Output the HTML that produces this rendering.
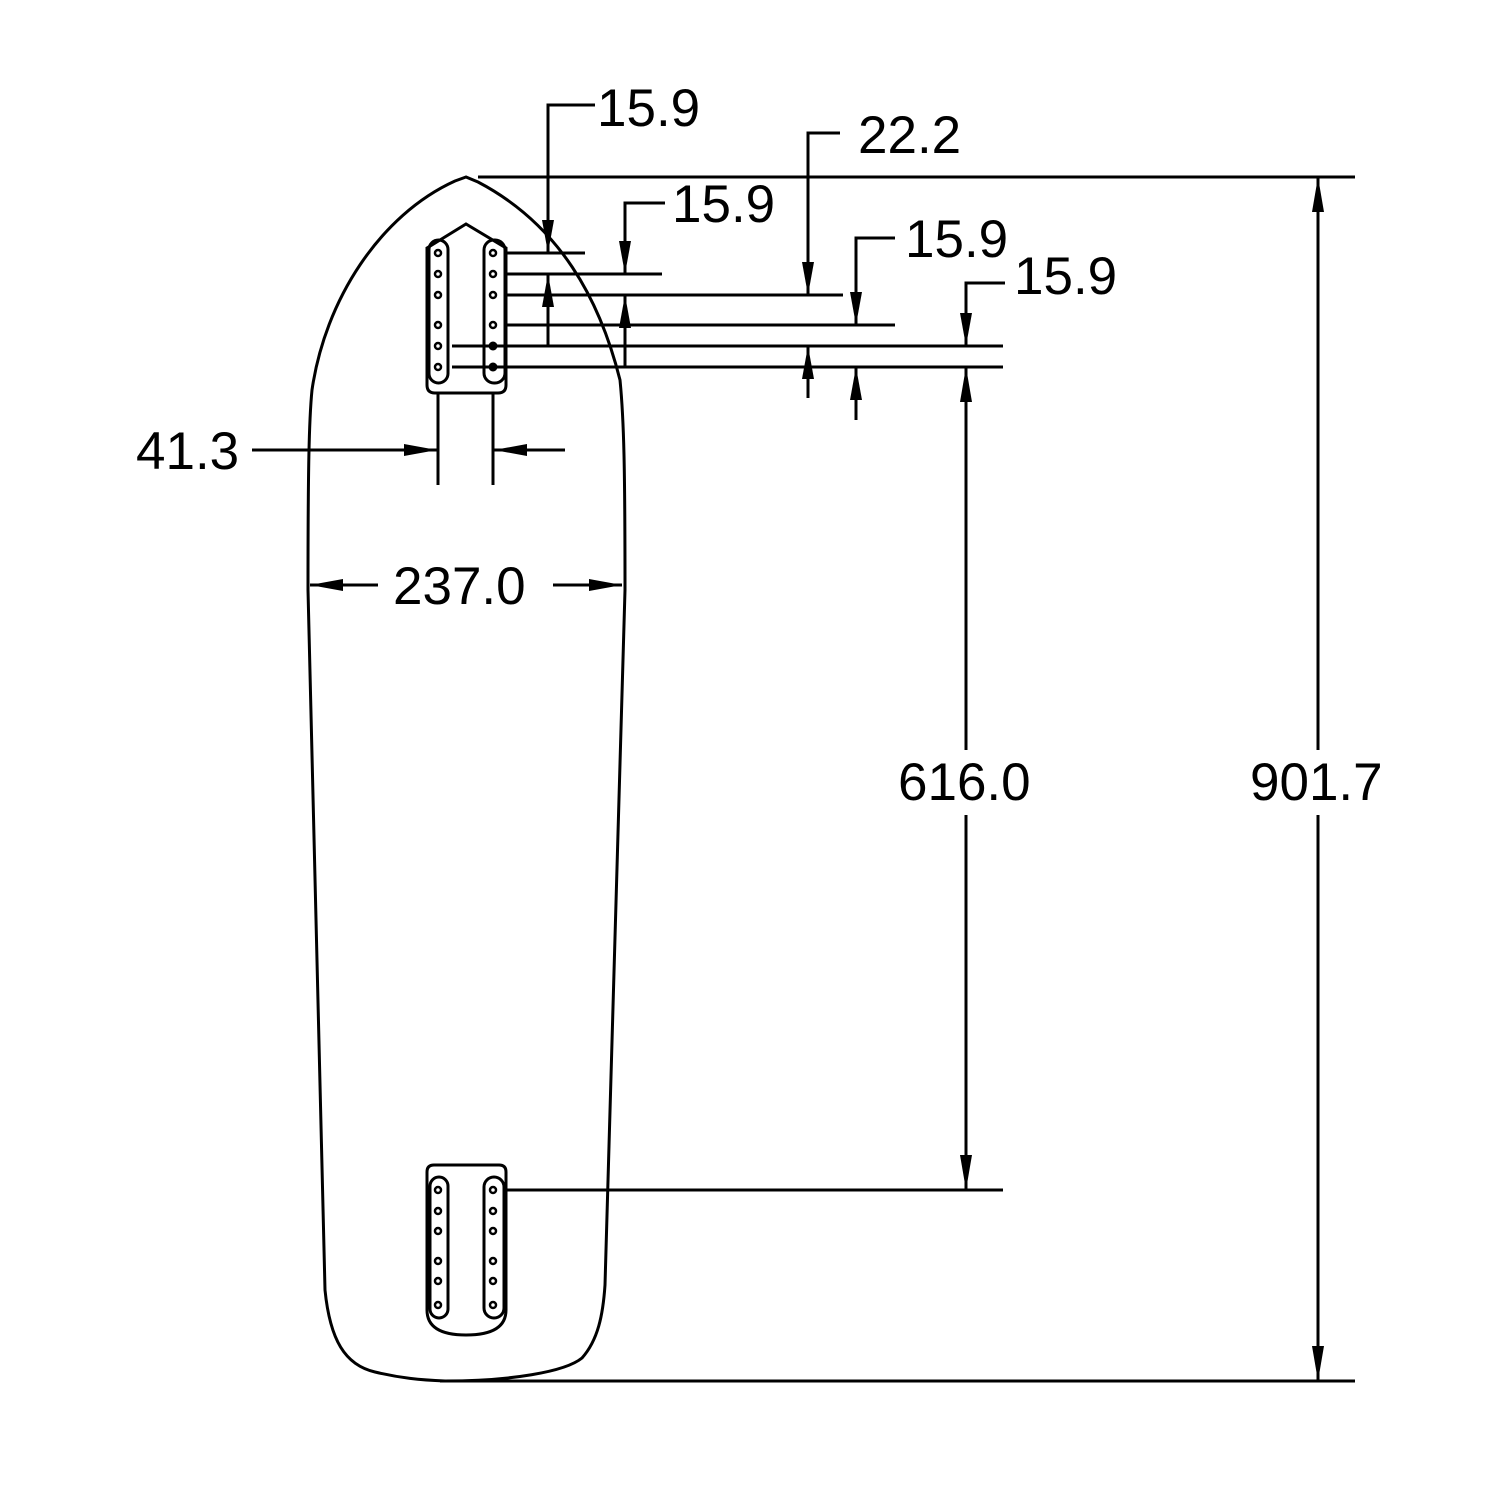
<!DOCTYPE html>
<html><head><meta charset="utf-8"><style>
html,body{margin:0;padding:0;background:#fff}
svg{display:block}
text{font-family:"Liberation Sans",sans-serif;font-size:53px;fill:#000}
</style></head><body>
<svg width="1490" height="1490" viewBox="0 0 1490 1490" xmlns="http://www.w3.org/2000/svg">
<g fill="none" stroke="#000" stroke-width="3">
<path d="M466,177 L455,181 C380,215 325,300 312,390 C309,420 308,470 308,590 L325,1290 C330,1340 345,1365 375,1372 C400,1378 420,1380 445,1381 C510,1381 565,1372 582,1358 C598,1340 603,1315 605,1285 L625,590 C625,470 624,420 620,380 C600,300 560,225 478,182 Z"/>
<path d="M427,248 L466,224 L506,248 L506,385 Q506,393 498,393 L435,393 Q427,393 427,385 Z"/>
<rect x="429" y="240" width="19" height="143" rx="9.5"/>
<rect x="484" y="240" width="21" height="143" rx="10"/>
<path d="M434,1165 L499,1165 Q506,1165 506,1172 L506,1310 Q506,1335 466,1335 Q427,1335 427,1310 L427,1172 Q427,1165 434,1165 Z"/>
<rect x="430" y="1177" width="18" height="141" rx="9"/>
<rect x="484" y="1177" width="20" height="141" rx="10"/>
</g>
<g fill="#fff" stroke="#000" stroke-width="2.5">
<circle cx="438" cy="253" r="3"/><circle cx="438" cy="274" r="3"/><circle cx="438" cy="295" r="3"/><circle cx="438" cy="325" r="3"/><circle cx="438" cy="346" r="3"/><circle cx="438" cy="367" r="3"/>
<circle cx="493" cy="253" r="3"/><circle cx="493" cy="274" r="3"/><circle cx="493" cy="295" r="3"/><circle cx="493" cy="325" r="3"/>
<circle cx="438" cy="1190" r="3"/><circle cx="438" cy="1211" r="3"/><circle cx="438" cy="1231" r="3"/><circle cx="438" cy="1261" r="3"/><circle cx="438" cy="1281" r="3"/><circle cx="438" cy="1305" r="3"/>
<circle cx="493" cy="1190" r="3"/><circle cx="493" cy="1211" r="3"/><circle cx="493" cy="1231" r="3"/><circle cx="493" cy="1261" r="3"/><circle cx="493" cy="1281" r="3"/><circle cx="493" cy="1305" r="3"/>
</g>
<circle cx="493" cy="346" r="4.5"/><circle cx="493" cy="367" r="4.5"/>
<g fill="none" stroke="#000" stroke-width="3">
<line x1="478" y1="177" x2="1355" y2="177"/>
<line x1="440" y1="1381" x2="1355" y2="1381"/>
<line x1="506" y1="253" x2="585" y2="253"/>
<line x1="506" y1="274" x2="662" y2="274"/>
<line x1="506" y1="295" x2="843" y2="295"/>
<line x1="506" y1="325" x2="895" y2="325"/>
<line x1="452" y1="346" x2="1003" y2="346"/>
<line x1="452" y1="367" x2="1003" y2="367"/>
<line x1="506" y1="1190" x2="1003" y2="1190"/>
<line x1="1318" y1="177" x2="1318" y2="750"/>
<line x1="1318" y1="815" x2="1318" y2="1381"/>
<line x1="966" y1="367" x2="966" y2="750"/>
<line x1="966" y1="815" x2="966" y2="1190"/>
<polyline points="595,105 548,105 548,253"/>
<line x1="548" y1="274" x2="548" y2="346"/>
<polyline points="665,203 625,203 625,274"/>
<line x1="625" y1="295" x2="625" y2="367"/>
<polyline points="840,133 808,133 808,295"/>
<line x1="808" y1="346" x2="808" y2="398"/>
<polyline points="895,238 856,238 856,325"/>
<line x1="856" y1="367" x2="856" y2="420"/>
<polyline points="1005,283 966,283 966,346"/>
<line x1="252" y1="450" x2="437" y2="450"/>
<line x1="493" y1="450" x2="565" y2="450"/>
<line x1="438" y1="393" x2="438" y2="485"/>
<line x1="493" y1="393" x2="493" y2="485"/>
<line x1="310" y1="585" x2="378" y2="585"/>
<line x1="553" y1="585" x2="622" y2="585"/>
</g>
<g fill="#000">
<polygon points="1318,177 1312,212 1324,212"/>
<polygon points="1318,1381 1312,1346 1324,1346"/>
<polygon points="966,367 960,402 972,402"/>
<polygon points="966,1190 960,1155 972,1155"/>
<polygon points="548,253 542,220 554,220"/>
<polygon points="548,274 542,307 554,307"/>
<polygon points="625,274 619,241 631,241"/>
<polygon points="625,295 619,328 631,328"/>
<polygon points="808,295 802,262 814,262"/>
<polygon points="808,346 802,379 814,379"/>
<polygon points="856,325 850,292 862,292"/>
<polygon points="856,367 850,400 862,400"/>
<polygon points="966,346 960,313 972,313"/>
<polygon points="437,450 404,444 404,456"/>
<polygon points="494,450 527,444 527,456"/>
<polygon points="310,585 343,579 343,591"/>
<polygon points="622,585 589,579 589,591"/>
</g>
<text x="597" y="126">15.9</text>
<text x="672" y="222">15.9</text>
<text x="858" y="153">22.2</text>
<text x="905" y="257">15.9</text>
<text x="1014" y="294">15.9</text>
<text x="136" y="469">41.3</text>
<text x="393" y="604">237.0</text>
<text x="898" y="800">616.0</text>
<text x="1250" y="800">901.7</text>
</svg>
</body></html>
